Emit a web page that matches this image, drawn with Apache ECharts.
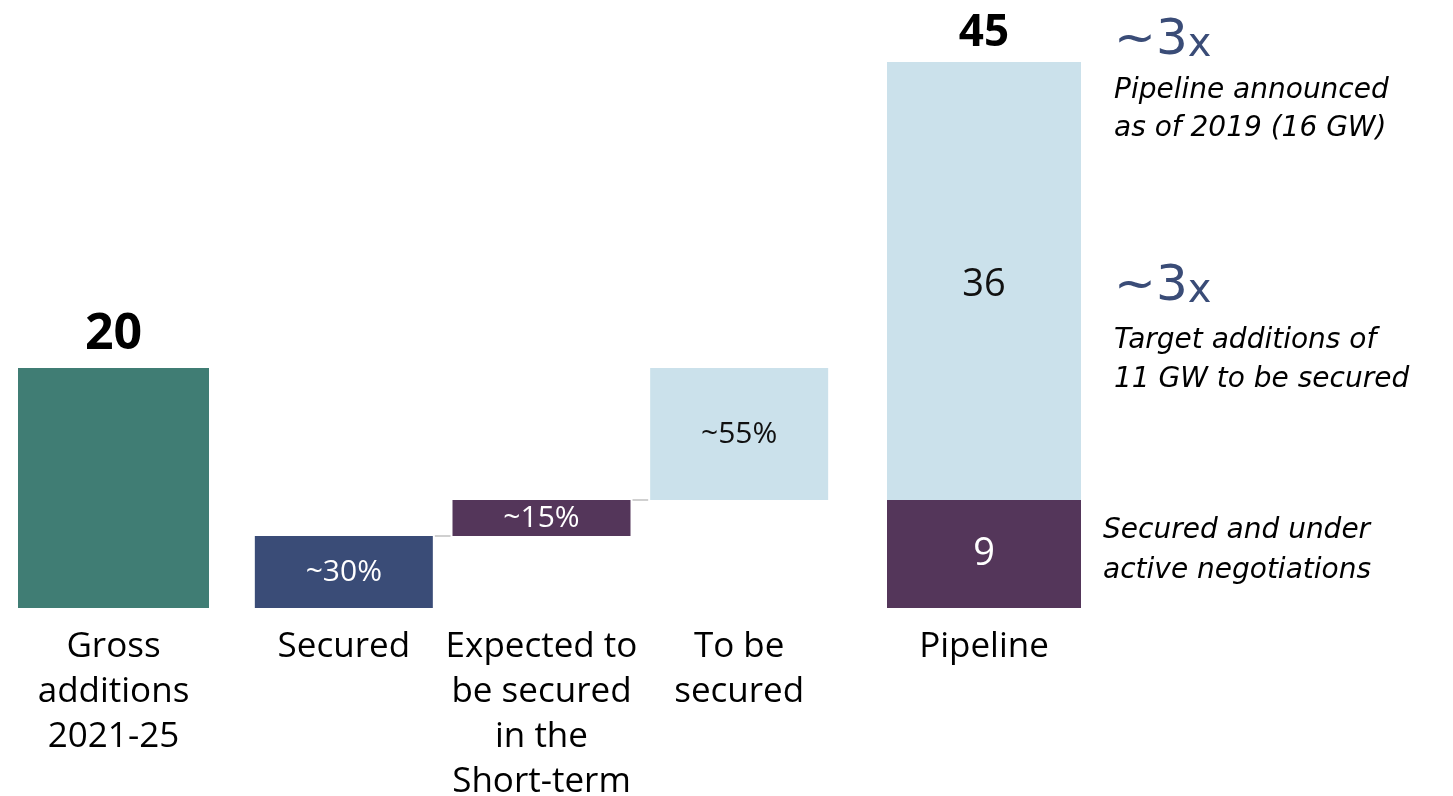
<!DOCTYPE html>
<html>
<head>
<meta charset="utf-8">
<script src="https://cdn.jsdelivr.net/npm/echarts@6/dist/echarts.min.js"></script>
<style>
html,body{margin:0;padding:0;background:#fff;}
#chart{width:1453px;height:796px;}
</style>
</head>
<body>
<div id="chart"></div>
<script>
// ---- data ----
var grossCategories = ['Gross\nadditions\n2021-25'];
var grossValues = [20];
var grossLabels = ['20'];

var waterfallCategories = ['Secured', 'Expected to\nbe secured\nin the\nShort-term', 'To be\nsecured'];
var waterfallBase = [0, 6, 9];
var waterfallValues = [6, 3, 11];
var waterfallLabels = ['~30%', '~15%', '~55%'];

var pipelineCategories = ['Pipeline'];
var pipelineSecured = [9];
var pipelineRest = [36.5];
var pipelineSecuredLabels = ['9'];
var pipelineRestLabels = ['36'];
var pipelineTotalLabels = ['45'];

var annotations = [
  { big: '~3', small: 'x', lines: ['Pipeline announced', 'as of 2019 (16 GW)'] },
  { big: '~3', small: 'x', lines: ['Target additions of', '11 GW to be secured'] },
  { big: '', small: '', lines: ['Secured and under', 'active negotiations'] }
];

// ---- style ----
var FONT = 'Open Sans';
var AFONT = 'DejaVu Sans';
var C_TEAL = '#407d74', C_NAVY = '#3a4c77', C_PURPLE = '#54365a', C_LIGHT = '#cbe1eb';

var chart = echarts.init(document.getElementById('chart'), null, {renderer: 'canvas'});

var gridTop = 8, gridHeight = 600;
function yAx(i){ return {gridIndex:i, type:'value', min:0, max:50, show:false}; }
function xAx(i, cats){
  return {gridIndex:i, type:'category', data:cats,
    axisLine:{show:false}, axisTick:{show:false}, splitLine:{show:false},
    axisLabel:{interval:0, color:'#000', fontFamily:FONT, fontSize:35, lineHeight:45, margin:17}};
}
function grid(left, width){
  return {left:left, width:width, top:gridTop, height:gridHeight, outerBoundsMode:'none', containLabel:false};
}

var option = {
  animation:false,
  backgroundColor:'#fff',
  grid:[grid(18,191), grid(245,593), grid(887,194)],
  xAxis:[xAx(0, grossCategories), xAx(1, waterfallCategories), xAx(2, pipelineCategories)],
  yAxis:[yAx(0), yAx(1), yAx(2)],
  series:[
    {type:'bar', xAxisIndex:0, yAxisIndex:0, data:grossValues, barWidth:'100%',
     itemStyle:{color:C_TEAL},
     label:{show:true, position:'top', distance:8, color:'#000', fontFamily:FONT, fontWeight:'bold', fontSize:50,
       formatter:function(p){return grossLabels[p.dataIndex];}}},
    {type:'bar', xAxisIndex:1, yAxisIndex:1, stack:'wf', data:waterfallBase, barWidth:178,
     itemStyle:{color:'transparent'}, silent:true},
    {type:'bar', xAxisIndex:1, yAxisIndex:1, stack:'wf', barWidth:178,
     data:waterfallValues.map(function(v,i){
       var colors=[C_NAVY, C_PURPLE, C_LIGHT];
       return {value:v, itemStyle:{color:colors[i]},
         label:{color: i===2 ? '#111' : '#fff'}};
     }),
     label:{show:true, position:'inside', fontFamily:FONT, fontSize:30,
       formatter:function(p){return waterfallLabels[p.dataIndex];}}},
    {type:'custom', xAxisIndex:1, yAxisIndex:1,
     data:waterfallValues.slice(0,2).map(function(v,i){return [i, waterfallBase[i]+v];}),
     renderItem:function(params, api){
       var p = api.coord([api.value(0), api.value(1)]);
       var band = api.size([1,0])[0];
       var half = 89;
       return {type:'line', shape:{x1:p[0]+half+2, y1:p[1], x2:p[0]+band-half-2, y2:p[1]},
         style:{stroke:'#d0d0d0', lineWidth:2}};
     }},
    {type:'bar', xAxisIndex:2, yAxisIndex:2, stack:'pl', data:pipelineSecured, barWidth:'100%',
     itemStyle:{color:C_PURPLE},
     label:{show:true, position:'inside', color:'#fff', fontFamily:FONT, fontSize:38,
       formatter:function(p){return pipelineSecuredLabels[p.dataIndex];}}},
    {type:'bar', xAxisIndex:2, yAxisIndex:2, stack:'pl', data:pipelineRest, barWidth:'100%',
     itemStyle:{color:C_LIGHT},
     label:{show:true, position:'inside', offset:[0,4], color:'#111', fontFamily:FONT, fontSize:38,
       formatter:function(p){return pipelineRestLabels[p.dataIndex];}}},
    {type:'scatter', xAxisIndex:2, yAxisIndex:2, symbolSize:0,
     itemStyle:{opacity:1, color:'#000'},
     data:pipelineSecured.map(function(v,i){return [i, v + pipelineRest[i]];}),
     label:{show:true, position:'top', distance:7, color:'#000', opacity:1, fontFamily:FONT, fontWeight:'bold', fontSize:44,
       formatter:function(p){return pipelineTotalLabels[p.dataIndex];}}}
  ],
  graphic:[]
};

// annotation text (right side)
var annPos = [
  {x:1114, bigY:46, lineY:[91,129]},
  {x:1114, bigY:292, lineY:[341,380]},
  {x:1103, bigY:0, lineY:[531,571]}
];
annotations.forEach(function(a, k){
  var pos = annPos[k];
  if (a.big) {
    option.graphic.push({type:'text', left:pos.x, top:pos.bigY - 30,
      style:{text:'{b|'+a.big+'}{s|'+a.small+'}',
        rich:{b:{fontFamily:AFONT, fontSize:50, fill:C_NAVY, verticalAlign:'bottom', lineHeight:60},
              s:{fontFamily:AFONT, fontSize:40, fill:C_NAVY, verticalAlign:'bottom', lineHeight:52}}}});
  }
  a.lines.forEach(function(t, j){
    option.graphic.push({type:'text', left:pos.x, top:pos.lineY[j]-19,
      style:{text:t, fontFamily:AFONT, fontStyle:'italic', fontSize:28, lineHeight:38, fill:'#000'}});
  });
});

chart.setOption(option);
</script>
</body>
</html>
